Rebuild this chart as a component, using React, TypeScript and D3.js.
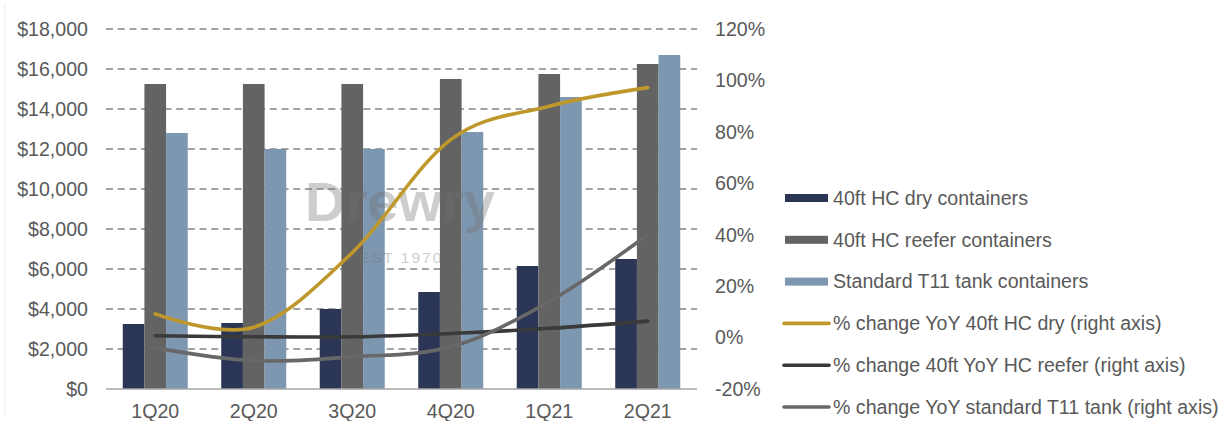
import React from 'react';
import * as d3 from 'd3';

const categories = ['1Q20', '2Q20', '3Q20', '4Q20', '1Q21', '2Q21'];
const dryPrice = [3250, 3300, 4000, 4850, 6150, 6500];
const reeferPrice = [15250, 15250, 15250, 15500, 15750, 16250];
const tankPrice = [12800, 12000, 12000, 12850, 14600, 16700];
const dryYoY = [9.2, 4, 33, 77, 90, 97.2];
const reeferYoY = [0.7, 0.3, 0.3, 1.6, 3.6, 6.4];
const tankYoY = [-4, -9, -7.5, -3.6, 14, 40];
const leftTicks = [0, 2000, 4000, 6000, 8000, 10000, 12000, 14000, 16000, 18000];
const rightTicks = [-20, 0, 20, 40, 60, 80, 100, 120];
const barLabels = ['40ft HC dry containers', '40ft HC reefer containers', 'Standard T11 tank containers'];
const lineLabels = [
  '% change YoY 40ft HC dry (right axis)',
  '% change 40ft YoY HC reefer (right axis)',
  '% change YoY standard T11 tank (right axis)',
];

const barColors = ['#2b3555', '#636363', '#7e97b1'];
const lineColors = ['#bf982c', '#3a3a3a', '#686868'];
const textColor = '#595959';
const font = "'Liberation Sans', Arial, sans-serif";
const fs = 19.6;

export default function App() {
  const W = 1223, H = 421;
  const x0 = 106, x1 = 697, yTop = 29, yBot = 389;
  const x = d3.scaleBand<string>().domain(categories).range([x0, x1]).paddingInner(0.34).paddingOuter(0.17);
  const xs = d3.scaleBand<number>().domain([0, 1, 2]).range([0, x.bandwidth()]);
  const yL = d3.scaleLinear().domain([0, 18000]).range([yBot, yTop]);
  const yR = d3.scaleLinear().domain([-20, 120]).range([yBot, yTop]);
  const barSeries = [dryPrice, reeferPrice, tankPrice];
  const lineSeries = [dryYoY, reeferYoY, tankYoY];
  const cx = (c: string) => (x(c) as number) + x.bandwidth() / 2;
  const lineGen = d3
    .line<number>()
    .x((_, i) => cx(categories[i]))
    .y((d) => yR(d))
    .curve(d3.curveCardinal.tension(0));
  const fmt = d3.format(',');
  const legendY0 = 198, legendStep = 41.8;

  return (
    <svg width={W} height={H} style={{ position: 'absolute', left: 0, top: 0, background: '#fff' }} fontFamily={font}>
      <rect x={0} y={0} width={W} height={H} fill="#fff" />
      <line x1={5} x2={5} y1={4} y2={417} stroke="#ededed" strokeWidth={1} />
      {/* gridlines */}
      {leftTicks.filter((t) => t > 0).map((t) => (
        <line key={t} x1={x0} x2={x1} y1={yL(t)} y2={yL(t)} stroke="#858585" strokeWidth={1.6} strokeDasharray="7,4.7" />
      ))}
      {/* bars */}
      {barSeries.map((s, si) =>
        s.map((v, i) => (
          <rect
            key={`${si}-${i}`}
            x={(x(categories[i]) as number) + (xs(si) as number)}
            y={yL(v)}
            width={xs.bandwidth()}
            height={yBot - yL(v)}
            fill={barColors[si]}
          />
        ))
      )}
      {/* watermark */}
      <g opacity={0.34} fill="#707070">
        <text x={400} y={221} fontSize={56} fontWeight="bold" textAnchor="middle">Drewry</text>
        <text x={401} y={263} fontSize={15.5} textAnchor="middle" letterSpacing={2}>EST 1970</text>
      </g>
      {/* lines */}
      {lineSeries.map((s, si) => (
        <path key={si} d={lineGen(s) || ''} fill="none" stroke={lineColors[si]} strokeWidth={3.6} strokeLinecap="round" />
      ))}
      {/* baseline */}
      <line x1={x0} x2={x1} y1={yBot} y2={yBot} stroke="#a6a6a6" strokeWidth={1.5} />
      {/* left axis */}
      {leftTicks.map((t) => (
        <text key={t} x={88} y={yL(t)} dy="0.35em" textAnchor="end" fontSize={fs} fill={textColor}>
          {'$' + fmt(t)}
        </text>
      ))}
      {/* right axis */}
      {rightTicks.map((t) => (
        <text key={t} x={715} y={yR(t)} dy="0.35em" textAnchor="start" fontSize={fs} fill={textColor}>
          {t + '%'}
        </text>
      ))}
      {/* x axis */}
      {categories.map((c) => (
        <text key={c} x={cx(c)} y={411} dy="0.35em" textAnchor="middle" fontSize={fs} fill={textColor}>
          {c}
        </text>
      ))}
      {/* legend */}
      {barLabels.map((l, i) => (
        <g key={l} transform={`translate(0,${legendY0 + i * legendStep})`}>
          <rect x={785} y={-4} width={43} height={8} fill={barColors[i]} />
          <text x={833} y={0} dy="0.35em" fontSize={fs} fill={textColor}>{l}</text>
        </g>
      ))}
      {lineLabels.map((l, i) => (
        <g key={l} transform={`translate(0,${legendY0 + (i + 3) * legendStep})`}>
          <line x1={784} x2={829} y1={0} y2={0} stroke={lineColors[i]} strokeWidth={3.6} strokeLinecap="round" />
          <text x={833} y={0} dy="0.35em" fontSize={fs} fill={textColor}>{l}</text>
        </g>
      ))}
    </svg>
  );
}
